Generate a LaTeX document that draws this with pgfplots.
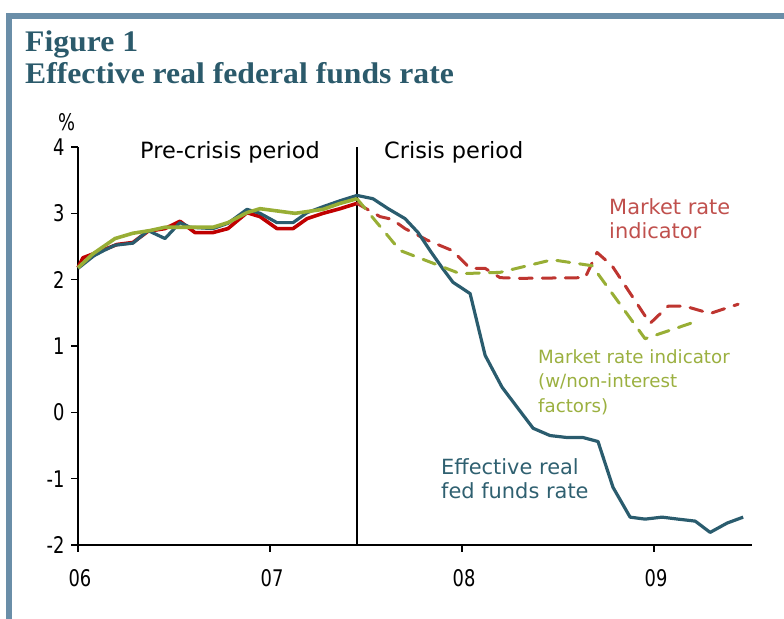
\documentclass[border=0pt]{standalone}
\usepackage{fontspec}
\setmainfont{DejaVu Sans}
\newfontfamily\titlefont{Liberation Serif}[FakeStretch=1.06]
\newfontfamily\tickfont{DejaVu Sans}[FakeStretch=0.78]
\usepackage{pgfplots}
\pgfplotsset{compat=1.18}
\definecolor{framecol}{HTML}{6A8EA8}
\definecolor{titlecol}{HTML}{2B5A6B}
\definecolor{bluecol}{HTML}{2A5C6E}
\definecolor{redsolid}{HTML}{C00000}
\definecolor{reddash}{HTML}{BE3530}
\definecolor{greencol}{HTML}{98AE35}
\definecolor{redtext}{HTML}{C0504D}
\definecolor{greentext}{HTML}{9BB040}
\definecolor{bluetext}{HTML}{2F6070}
\begin{document}
\begin{tikzpicture}[x=1bp,y=1bp]
\useasboundingbox (0,0) rectangle (784,619);
\fill[framecol] (6,0) rectangle (12,606);
\fill[framecol] (6,600) rectangle (784,606);
\node[anchor=base west, inner sep=0, text=titlecol, font=\titlefont\bfseries\fontsize{30}{32}\selectfont] at (25,567) {Figure 1};
\node[anchor=base west, inner sep=0, text=titlecol, font=\titlefont\bfseries\fontsize{30}{32}\selectfont] at (25,535) {Effective real federal funds rate};
\begin{axis}[at={(78bp,74bp)}, anchor=south west, scale only axis,
  width=674bp, height=398bp,
  xmin=2006, xmax=2009.51, ymin=-2, ymax=4,
  axis lines=left, axis line style={-, line width=1.6bp},
  xtick={2006,2007,2008,2009}, xticklabels={06,07,08,09},
  ytick={-2,-1,0,1,2,3,4},
  tick align=outside, major tick length=7bp,
  tick style={line width=1.2bp, black},
  ticklabel style={font=\tickfont\fontsize{23}{26}\selectfont},
  /pgf/number format/assume math mode=true,
  yticklabel style={xshift=-3bp},
  xticklabel style={yshift=-14bp, xshift=2bp},
  clip=false]
% crisis divider
\addplot[black, line width=1.2bp] coordinates {(2007.453,-2) (2007.453,4)};
% Market rate indicator (red)
\addplot[redsolid, line width=3.6bp, line join=round] coordinates {
(2006.000,2.18) (2006.026,2.33) (2006.125,2.44) (2006.203,2.53) (2006.286,2.56)
(2006.365,2.73) (2006.453,2.77) (2006.531,2.88) (2006.609,2.71) (2006.703,2.71)
(2006.781,2.77) (2006.880,3.01) (2006.948,2.95) (2007.036,2.77) (2007.120,2.77)
(2007.193,2.92) (2007.276,3.00) (2007.365,3.07) (2007.453,3.15)};
\addplot[reddash, line width=3bp, line cap=round, line join=round, dash pattern=on 13bp off 10bp] coordinates {
(2007.453,3.15) (2007.573,2.95) (2007.635,2.91) (2007.703,2.77) (2007.823,2.59)
(2007.948,2.44) (2008.042,2.17) (2008.120,2.17) (2008.198,2.03) (2008.302,2.02)
(2008.641,2.03) (2008.703,2.41) (2008.781,2.21) (2008.979,1.34) (2009.073,1.60)
(2009.161,1.60) (2009.292,1.49) (2009.438,1.63)};
% Effective real fed funds rate (blue)
\addplot[bluecol, line width=3.2bp, line join=round] coordinates {
(2006.000,2.17) (2006.083,2.36) (2006.135,2.44) (2006.193,2.52) (2006.286,2.55)
(2006.365,2.74) (2006.453,2.62) (2006.531,2.86) (2006.583,2.79) (2006.703,2.77)
(2006.781,2.85) (2006.880,3.06) (2006.948,3.00) (2007.036,2.86) (2007.120,2.86)
(2007.193,3.01) (2007.276,3.10) (2007.365,3.19) (2007.453,3.27) (2007.536,3.22)
(2007.615,3.07) (2007.703,2.92) (2007.771,2.71) (2007.833,2.44) (2007.896,2.18)
(2007.953,1.96) (2008.042,1.79) (2008.120,0.86) (2008.208,0.38) (2008.286,0.08)
(2008.370,-0.24) (2008.458,-0.35) (2008.547,-0.38) (2008.630,-0.38) (2008.708,-0.44)
(2008.786,-1.13) (2008.875,-1.58) (2008.953,-1.61) (2009.042,-1.58) (2009.125,-1.61)
(2009.214,-1.64) (2009.292,-1.81) (2009.380,-1.67) (2009.464,-1.58)};
% Market rate indicator w/ non-interest factors (green)
\addplot[greencol, line width=3.6bp, line join=round] coordinates {
(2006.000,2.18) (2006.078,2.39) (2006.193,2.62) (2006.286,2.70) (2006.375,2.74)
(2006.453,2.79) (2006.703,2.79) (2006.781,2.86) (2006.880,3.01) (2006.948,3.07)
(2007.130,3.00) (2007.276,3.06) (2007.365,3.15) (2007.453,3.22)};
\addplot[greencol, line width=3bp, line cap=round, line join=round, dash pattern=on 13bp off 10bp] coordinates {
(2007.453,3.22) (2007.677,2.44) (2007.990,2.09) (2008.198,2.11) (2008.469,2.30)
(2008.677,2.21) (2008.953,1.11) (2009.240,1.39)};
\end{axis}
\node[anchor=west, inner sep=0, font=\tickfont\fontsize{23}{26}\selectfont] at (58,497) {\%};
\node[anchor=west, inner sep=0, font=\fontsize{22.5}{26}\selectfont] at (140,467) {Pre-crisis period};
\node[anchor=west, inner sep=0, font=\fontsize{22.5}{26}\selectfont] at (384,467) {Crisis period};
\node[anchor=north west, inner sep=0, align=left, text=redtext, font=\fontsize{21}{25}\selectfont] at (609,421) {Market rate\\indicator};
\node[anchor=north west, inner sep=0, align=left, text=greentext, font=\fontsize{18.3}{25}\selectfont] at (538,270) {Market rate indicator\\(w/non-interest\\factors)};
\node[anchor=north west, inner sep=0, align=left, text=bluetext, font=\fontsize{21}{25}\selectfont] at (441,161) {Effective real\\fed funds rate};
\end{tikzpicture}
\end{document}
